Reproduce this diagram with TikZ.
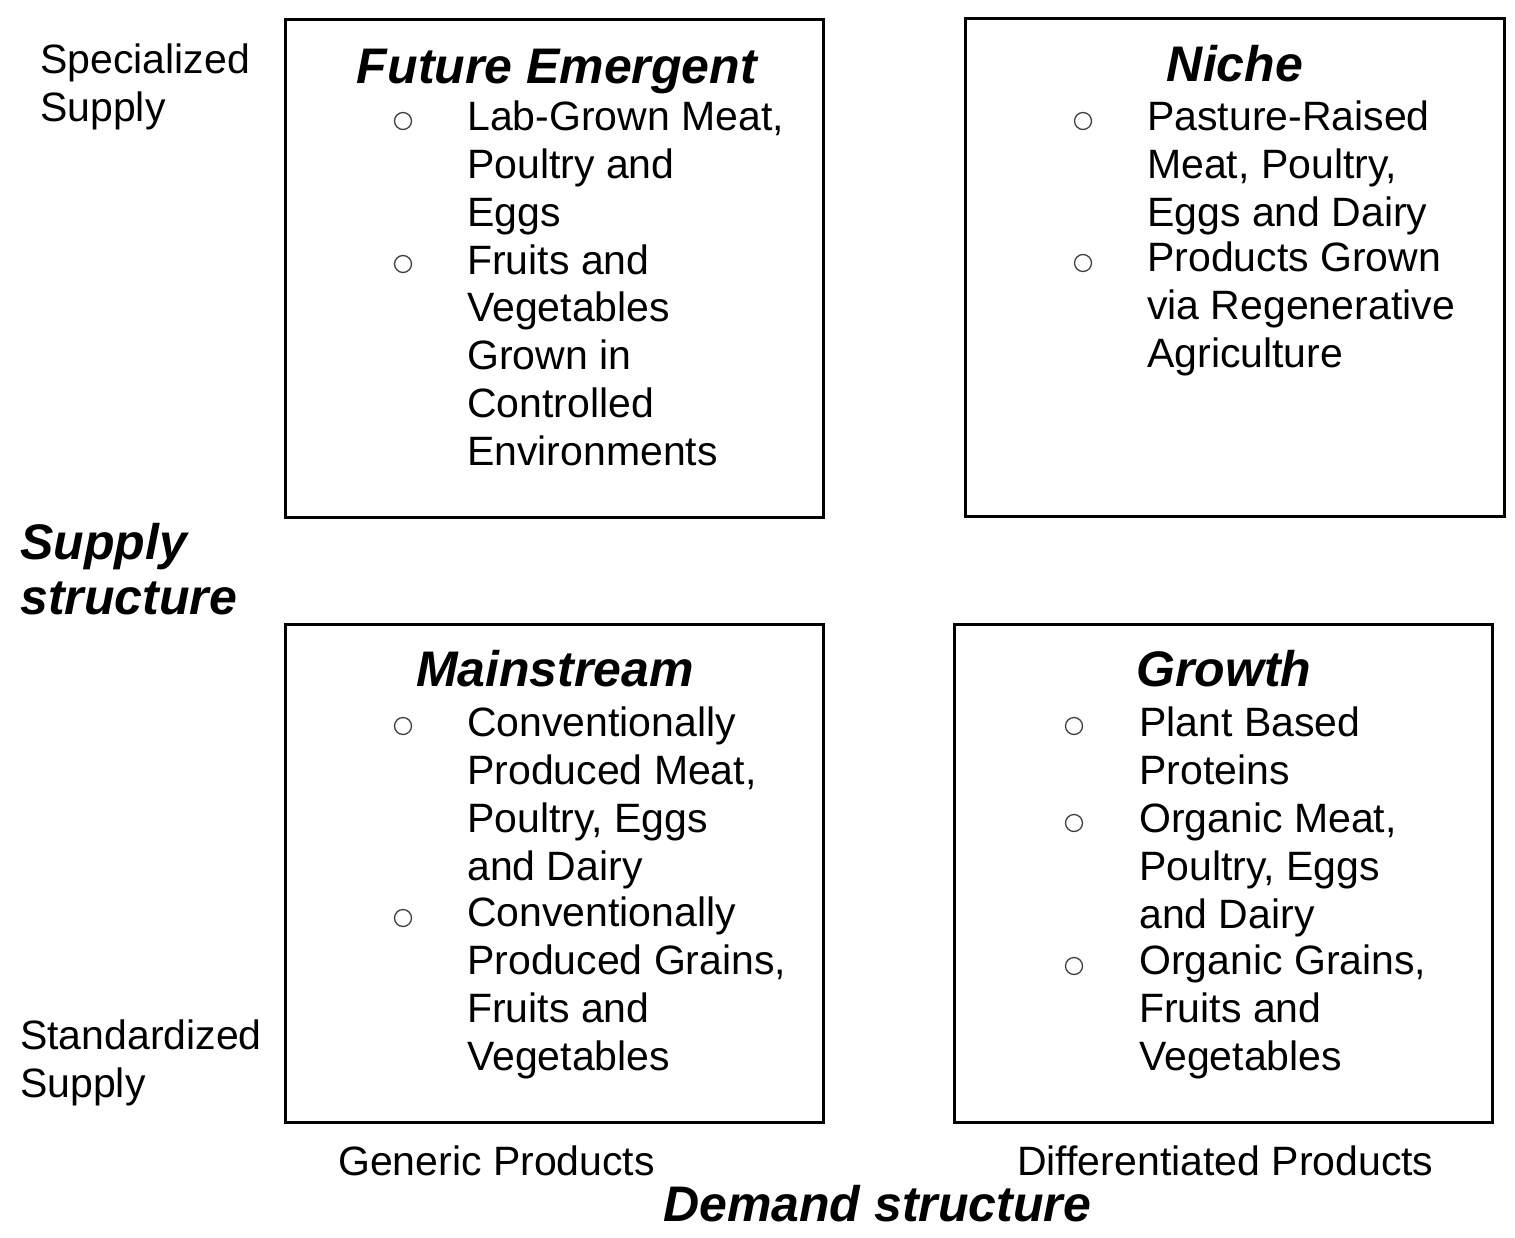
\documentclass[tikz,border=0pt]{standalone}
\usepackage{fontspec}
\setmainfont{Liberation Sans}
\begin{document}
\begin{tikzpicture}[x=1pt,y=-1pt,
  quad/.style={draw, line width=3pt, inner sep=0pt},
  ttl/.style={font=\fontsize{50}{58}\selectfont\bfseries\itshape, inner sep=0pt, anchor=base},
  item/.style={font=\fontsize{41}{47.7}\selectfont, inner sep=0pt, anchor=base west, align=left},
  lbl/.style={font=\fontsize{41}{47.7}\selectfont, inner sep=0pt, anchor=base west, align=left},
  blt/.style={circle, draw=black!75, line width=1.3pt, minimum size=17pt, inner sep=0pt},
  axis/.style={font=\fontsize{50}{55}\selectfont\bfseries\itshape, inner sep=0pt, anchor=base west, align=left}]
\useasboundingbox (0,0) rectangle (1515,1237);
% boxes
\draw[quad] (285,19) rectangle (823,517) node[pos=0] (fe) {};
\draw[quad] (965,18) rectangle (1504,516) node[pos=0] (ni) {};
\draw[quad] (285,624) rectangle (823,1122) node[pos=0] (ms) {};
\draw[quad] (954,624) rectangle (1492,1122) node[pos=0] (gr) {};
% Future Emergent
\node[ttl] (fet) at (557,83) {Future Emergent};
\node[blt] (feb1) at (403,121) {};
\node[item] (fei1) at (467,226) {Lab-Grown Meat,\\Poultry and\\Eggs};
\node[blt] (feb2) at (403,264) {};
\node[item] (fei2) at (467,465) {Fruits and\\Vegetables\\Grown in\\Controlled\\Environments};
% Niche
\node[ttl] (nit) at (1235,81) {Niche};
\node[blt] (nib1) at (1083,121) {};
\node[item] (nii1) at (1147,226) {Pasture-Raised\\Meat, Poultry,\\Eggs and Dairy};
\node[blt] (nib2) at (1083,263) {};
\node[item] (nii2) at (1147,367) {Products Grown\\via Regenerative\\Agriculture};
% Mainstream
\node[ttl] (mst) at (555,686) {Mainstream};
\node[blt] (msb1) at (403,726) {};
\node[item] (msi1) at (467,880) {Conventionally\\Produced Meat,\\Poultry, Eggs\\and Dairy};
\node[blt] (msb2) at (403,918) {};
\node[item] (msi2) at (467,1070) {Conventionally\\Produced Grains,\\Fruits and\\Vegetables};
% Growth
\node[ttl] (grt) at (1224,686) {Growth};
\node[blt] (grb1) at (1074,726) {};
\node[item] (gri1) at (1139,784) {Plant Based\\Proteins};
\node[blt] (grb2) at (1074,823) {};
\node[item] (gri2) at (1139,928) {Organic Meat,\\Poultry, Eggs\\and Dairy};
\node[blt] (grb3) at (1074,966) {};
\node[item] (gri3) at (1139,1070) {Organic Grains,\\Fruits and\\Vegetables};
% side labels
\node[lbl] (spec) at (40,121) {Specialized\\Supply};
\node[axis] (sup) at (20,614) {Supply\\structure};
\node[lbl] (std) at (20,1097) {Standardized\\Supply};
\node[lbl] (gen) at (338,1175) {Generic Products};
\node[lbl] (dif) at (1017,1175) {Differentiated Products};
\node[axis] (dem) at (663,1221) {Demand structure};
\end{tikzpicture}
\end{document}
